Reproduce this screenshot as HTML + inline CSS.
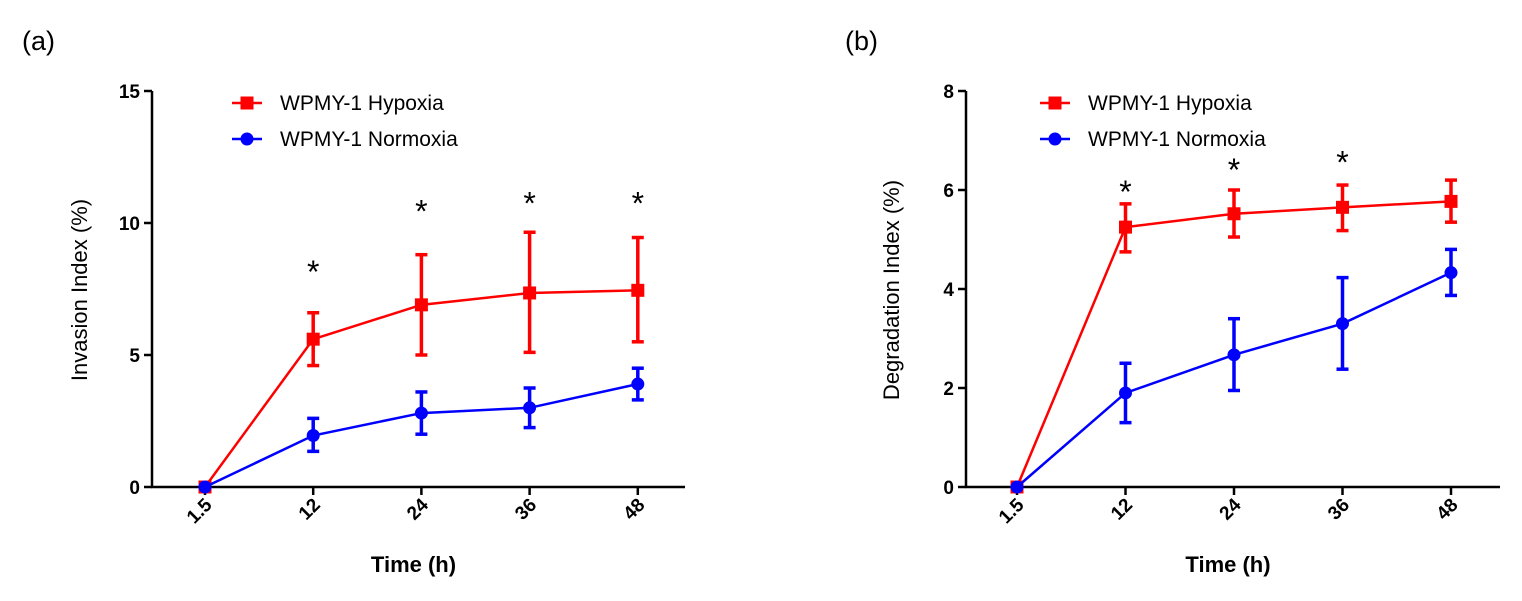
<!DOCTYPE html>
<html><head><meta charset="utf-8"><style>
html,body{margin:0;padding:0;background:#fff;}
svg{display:block;font-family:"Liberation Sans",Arial,sans-serif;}
</style></head><body>
<svg id="c" width="1522" height="601" viewBox="0 0 1522 601"></svg>
<script>
const categories = ["1.5","12","24","36","48"];
const aHypoxia = [0,5.6,6.9,7.35,7.45];
const aHypoxiaLo = [0,4.6,5.0,5.1,5.5];
const aHypoxiaHi = [0,6.6,8.8,9.65,9.45];
const aNormoxia = [0,1.95,2.8,3.0,3.9];
const aNormoxiaLo = [0,1.35,2.0,2.25,3.3];
const aNormoxiaHi = [0,2.6,3.6,3.75,4.5];
const aStars = [null,8.4,10.7,11.0,11.0];
const aTicks = [0,5,10,15];
const bHypoxia = [0,5.25,5.52,5.65,5.77];
const bHypoxiaLo = [0,4.75,5.05,5.18,5.35];
const bHypoxiaHi = [0,5.72,6.0,6.1,6.2];
const bNormoxia = [0,1.9,2.67,3.3,4.33];
const bNormoxiaLo = [0,1.3,1.95,2.38,3.87];
const bNormoxiaHi = [0,2.5,3.4,4.23,4.8];
const bStars = [null,6.1,6.55,6.7,null];
const bTicks = [0,2,4,6,8];

const svg=document.getElementById('c');
const NS='http://www.w3.org/2000/svg';
function el(t,a,txt){const e=document.createElementNS(NS,t);for(const k in a)e.setAttribute(k,a[k]);if(txt!==undefined)e.textContent=txt;svg.appendChild(e);return e;}

function panel(o){
  const y=v=>487-(v/o.ymax)*396;
  const x=i=>o.xs[0]+i*o.dx;
  let e;
  e=el('text',{x:o.labelX,y:50,'font-size':27},o.label);
  
  
  e=el('line',{x1:o.ax,y1:91,x2:o.ax,y2:488,stroke:'#000','stroke-width':2.5});
  
  
  e=el('line',{x1:o.ax-1,y1:487,x2:o.axEnd,y2:487,stroke:'#000','stroke-width':2.5});
  
  
  o.ticks.forEach(t=>{
    el('line',{x1:o.ax-8,y1:y(t),x2:o.ax,y2:y(t),stroke:'#000','stroke-width':2.5});
    e=el('text',{x:o.ax-12,y:y(t)+7,'font-size':19,'font-weight':'bold','text-anchor':'end'},t);
    
    
  });
  categories.forEach((c,i)=>{
    el('line',{x1:x(i),y1:487,x2:x(i),y2:495,stroke:'#000','stroke-width':2.5});
    e=el('text',{x:x(i)+8,y:506,'font-size':19,'font-weight':'bold','text-anchor':'end',transform:`rotate(-45 ${x(i)+8} 506)`},c);
    
    
  });
  e=el('text',{x:(o.ax+o.axEnd)/2-5,y:572,'font-size':22,'font-weight':'bold','text-anchor':'middle'},'Time (h)');
  
  
  e=el('text',{x:0,y:0,'font-size':22,'text-anchor':'middle',transform:`translate(${o.ytX},290) rotate(-90)`},o.ytitle);
  
  
  function series(v,lo,hi,col,sq,name){
    v.forEach((_,i)=>{if(i===0)return;
      el('line',{x1:x(i),y1:y(lo[i]),x2:x(i),y2:y(hi[i]),stroke:col,'stroke-width':3.5});
      el('line',{x1:x(i)-6,y1:y(lo[i]),x2:x(i)+6,y2:y(lo[i]),stroke:col,'stroke-width':3.5});
      el('line',{x1:x(i)-6,y1:y(hi[i]),x2:x(i)+6,y2:y(hi[i]),stroke:col,'stroke-width':3.5});
    });
    const p=el('polyline',{points:v.map((d,i)=>x(i)+','+y(d)).join(' '),fill:'none',stroke:col,'stroke-width':2.5});
    
    
    v.forEach((d,i)=>{
      const m=sq?el('rect',{x:x(i)-6.5,y:y(d)-6.5,width:13,height:13,fill:col}):el('circle',{cx:x(i),cy:y(d),r:6.5,fill:col});
      
      
    });
  }
  series(o.h,o.hlo,o.hhi,'#ff0000',true,'hypoxia-'+o.id);
  series(o.n,o.nlo,o.nhi,'#0000ff',false,'normoxia-'+o.id);
  o.stars.forEach((s,i)=>{if(s==null)return;
    e=el('text',{x:x(i),y:y(s)+18,'font-size':32,'text-anchor':'middle'},'*');
    
    
  });
  [['WPMY-1 Hypoxia','#ff0000',true,103],['WPMY-1 Normoxia','#0000ff',false,139]].forEach(l=>{
    el('line',{x1:o.lgX,y1:l[3],x2:o.lgX+30,y2:l[3],stroke:l[1],'stroke-width':2.5});
    if(l[2])el('rect',{x:o.lgX+8.5,y:l[3]-6.5,width:13,height:13,fill:l[1]});else el('circle',{cx:o.lgX+15,cy:l[3],r:6.5,fill:l[1]});
    e=el('text',{x:o.lgX+48,y:l[3]+7,'font-size':21},l[0]);
    
    
  });
}
panel({id:'a',label:'(a)',labelX:22,ax:152,axEnd:685,xs:[205],dx:108.2,ymax:15,ticks:aTicks,ytitle:'Invasion  Index (%)',ytX:87,
  h:aHypoxia,hlo:aHypoxiaLo,hhi:aHypoxiaHi,n:aNormoxia,nlo:aNormoxiaLo,nhi:aNormoxiaHi,stars:aStars,lgX:232});
panel({id:'b',label:'(b)',labelX:845,ax:966,axEnd:1500,xs:[1017],dx:108.5,ymax:8,ticks:bTicks,ytitle:'Degradation Index (%)',ytX:899,
  h:bHypoxia,hlo:bHypoxiaLo,hhi:bHypoxiaHi,n:bNormoxia,nlo:bNormoxiaLo,nhi:bNormoxiaHi,stars:bStars,lgX:1040});
</script>
</body></html>
